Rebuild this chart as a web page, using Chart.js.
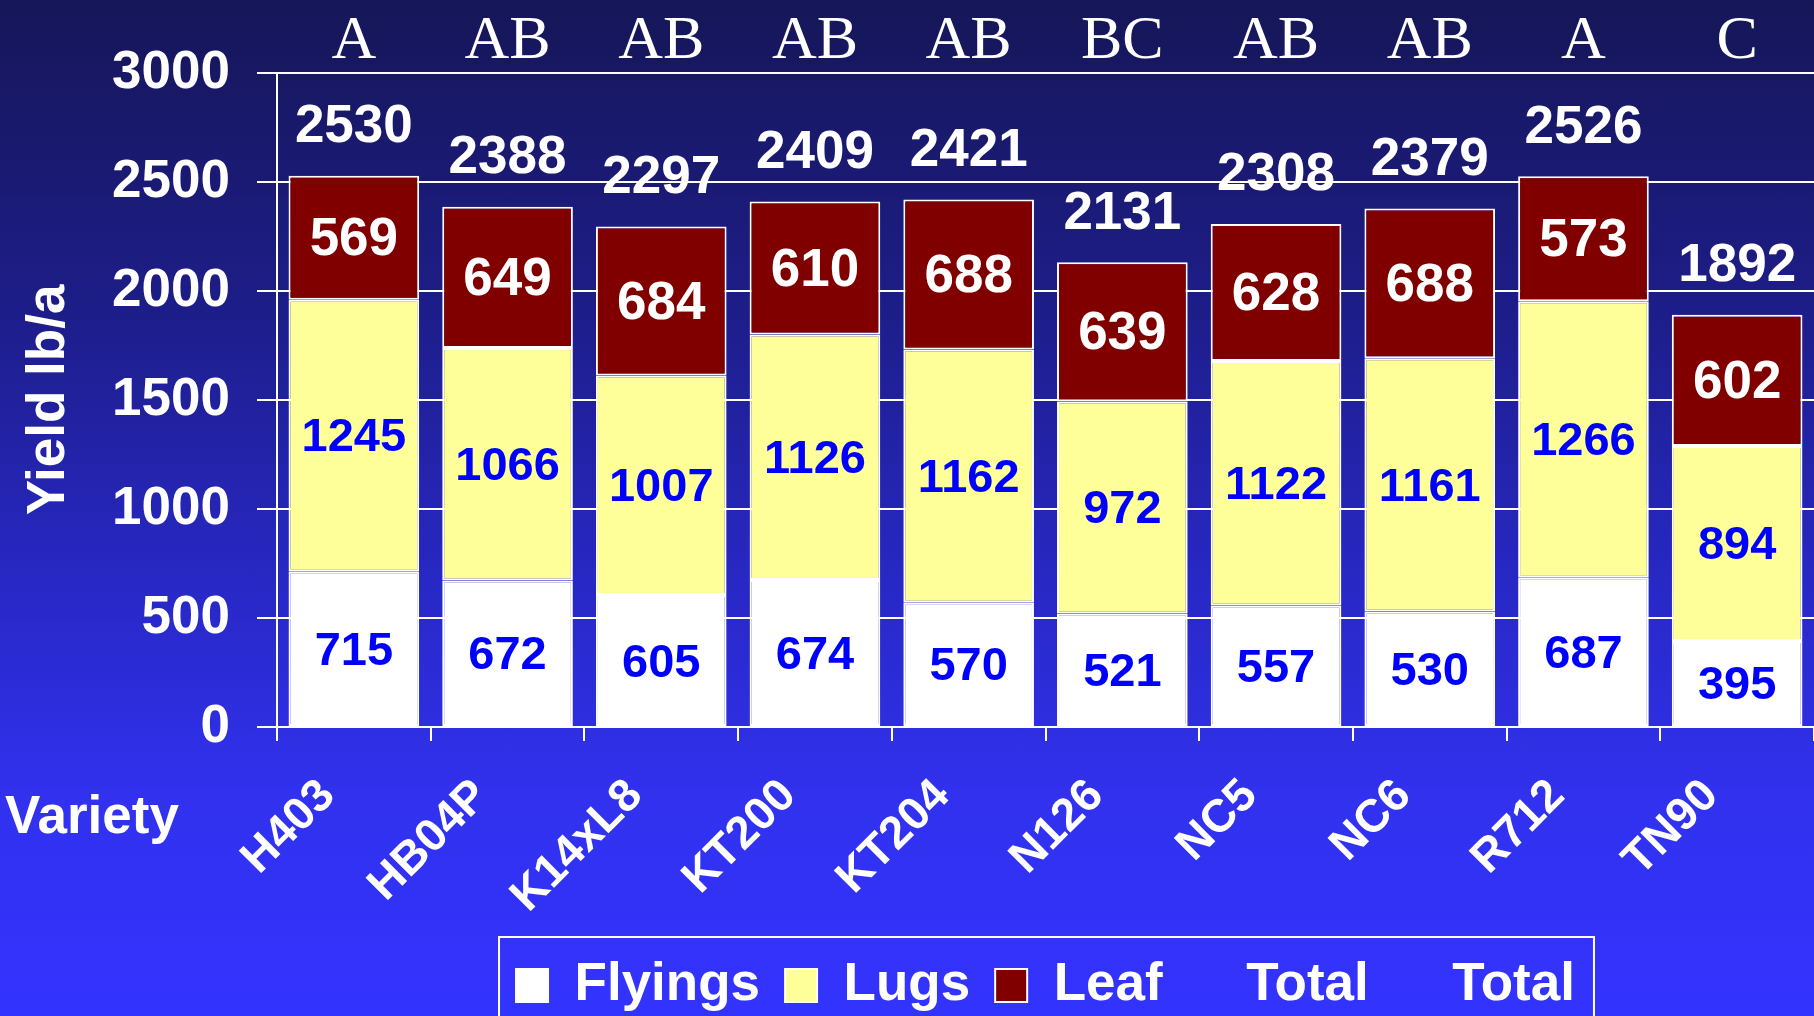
<!DOCTYPE html>
<html lang="en">
<head>
    <meta charset="UTF-8">
    <title>Yield by Variety</title>
    <script src="https://cdn.jsdelivr.net/npm/chart.js"></script>
    <style>
        html, body { margin: 0; padding: 0; overflow: hidden; }
        body {
            width: 1814px; height: 1016px;
            background: linear-gradient(to bottom, #161658 0%, #1d1d88 30%, #2727c0 55%, #3131ee 78%, #3333ff 100%);
        }
        canvas { display: block; }
    </style>
</head>
<body>
    <canvas id="chartCanvas" width="1814" height="1016"></canvas>

    <script>
        var varieties = ['H403', 'HB04P', 'K14xL8', 'KT200', 'KT204', 'N126', 'NC5', 'NC6', 'R712', 'TN90'];
        var flyings = [715, 672, 605, 674, 570, 521, 557, 530, 687, 395];
        var lugs = [1245, 1066, 1007, 1126, 1162, 972, 1122, 1161, 1266, 894];
        var leaf = [569, 649, 684, 610, 688, 639, 628, 688, 573, 602];
        var totals = [2530, 2388, 2297, 2409, 2421, 2131, 2308, 2379, 2526, 1892];
        var groupLetters = ['A', 'AB', 'AB', 'AB', 'AB', 'BC', 'AB', 'AB', 'A', 'C'];
        var yMin = 0, yMax = 3000, yStep = 500;

        var sans = "'Liberation Sans', Arial, sans-serif";
        var serif = "'Liberation Serif', 'Times New Roman', serif";

        // value labels, group letters, "Variety" and the legend frame
        var labelPlugin = {
            id: 'valueLabels',
            afterDatasetsDraw: function (chart) {
                var ctx = chart.ctx;
                ctx.save();
                ctx.textAlign = 'center';
                ctx.textBaseline = 'middle';
                [0, 1, 2].forEach(function (di) {
                    var meta = chart.getDatasetMeta(di);
                    ctx.font = di === 2 ? 'bold 53px ' + sans : 'bold 47px ' + sans;
                    ctx.fillStyle = di === 2 ? '#ffffff' : '#0000ff';
                    meta.data.forEach(function (bar, i) {
                        ctx.fillText(String(chart.data.datasets[di].data[i]), bar.x, (bar.y + bar.base) / 2 + 3);
                    });
                });

                var totMeta = chart.getDatasetMeta(3);
                ctx.font = 'bold 53px ' + sans;
                ctx.fillStyle = '#ffffff';
                totMeta.data.forEach(function (pt, i) {
                    ctx.fillText(String(totals[i]), pt.x, pt.y - 48);
                });

                var xs = chart.scales.x;
                ctx.font = '62px ' + serif;
                groupLetters.forEach(function (g, i) {
                    ctx.fillText(g, xs.getPixelForValue(i), chart.chartArea.top - 31);
                });

                ctx.textAlign = 'left';
                ctx.font = 'bold 53px ' + sans;
                ctx.fillText('Variety', 5, chart.chartArea.bottom + 91);
                ctx.restore();
            },
            afterDraw: function (chart) {
                var hb = chart.legend.legendHitBoxes;
                if (!hb || !hb.length) return;
                var last = hb[hb.length - 1];
                var left = hb[0].left - 17;
                var right = last.left + last.width + 19;
                var top = hb[0].top - 22;
                var ctx = chart.ctx;
                ctx.save();
                ctx.strokeStyle = '#ffffff';
                ctx.lineWidth = 2;
                ctx.strokeRect(left, top, right - left, chart.height + 20 - top);
                ctx.restore();
            }
        };

        var ctx = document.getElementById('chartCanvas').getContext('2d');
        new Chart(ctx, {
            data: {
                labels: varieties,
                datasets: [
                    { type: 'bar', label: 'Flyings', data: flyings, backgroundColor: '#ffffff', borderColor: '#ffffff', borderWidth: 2, borderSkipped: false, barPercentage: 0.85, categoryPercentage: 1 },
                    { type: 'bar', label: 'Lugs', data: lugs, backgroundColor: '#ffff99', borderColor: '#ffffff', borderWidth: 2, borderSkipped: false, barPercentage: 0.85, categoryPercentage: 1 },
                    { type: 'bar', label: 'Leaf', data: leaf, backgroundColor: '#800000', borderColor: '#ffffff', borderWidth: 2, borderSkipped: false, barPercentage: 0.85, categoryPercentage: 1 },
                    { type: 'line', label: 'Total', data: totals, stack: 'tot1', showLine: false, pointRadius: 0, backgroundColor: 'rgba(0,0,0,0)', borderColor: 'rgba(0,0,0,0)', borderWidth: 0 },
                    { type: 'line', label: 'Total', data: totals, stack: 'tot2', showLine: false, pointRadius: 0, backgroundColor: 'rgba(0,0,0,0)', borderColor: 'rgba(0,0,0,0)', borderWidth: 0 }
                ]
            },
            options: {
                responsive: false,
                animation: false,
                layout: { padding: { top: 73, left: 0, right: 0, bottom: -6 } },
                plugins: {
                    tooltip: { enabled: false },
                    legend: {
                        position: 'bottom',
                        fullSize: false,
                        labels: {
                            color: '#ffffff',
                            font: { family: sans, size: 53, weight: 'bold' },
                            boxWidth: 32,
                            boxHeight: 33,
                            padding: 25
                        }
                    }
                },
                scales: {
                    x: {
                        stacked: true,
                        grid: { display: true, drawOnChartArea: false, color: '#ffffff', tickColor: '#ffffff', tickLength: 14, lineWidth: 2 },
                        border: { display: true, color: '#ffffff', width: 2 },
                        ticks: {
                            color: '#ffffff',
                            font: { family: sans, size: 46, weight: 'bold' },
                            minRotation: 45,
                            maxRotation: 45,
                            autoSkip: false,
                            padding: 28,
                            labelOffset: -26
                        },
                        afterFit: function (s) { s.height = 207; }
                    },
                    y: {
                        stacked: true,
                        min: yMin,
                        max: yMax,
                        grid: { color: '#ffffff', tickColor: '#ffffff', tickLength: 20, lineWidth: 2 },
                        border: { display: true, color: '#ffffff', width: 2 },
                        ticks: {
                            stepSize: yStep,
                            color: '#ffffff',
                            font: { family: sans, size: 53, weight: 'bold' },
                            padding: 27,
                            callback: function (v) { return String(v); }
                        },
                        title: {
                            display: true,
                            text: 'Yield lb/a',
                            color: '#ffffff',
                            font: { family: sans, size: 53, weight: 'bold', lineHeight: 1.2 },
                            padding: { top: 18, bottom: 0 }
                        },
                        afterFit: function (s) { s.width = 277; }
                    }
                }
            },
            plugins: [labelPlugin]
        });
    </script>
</body>
</html>
